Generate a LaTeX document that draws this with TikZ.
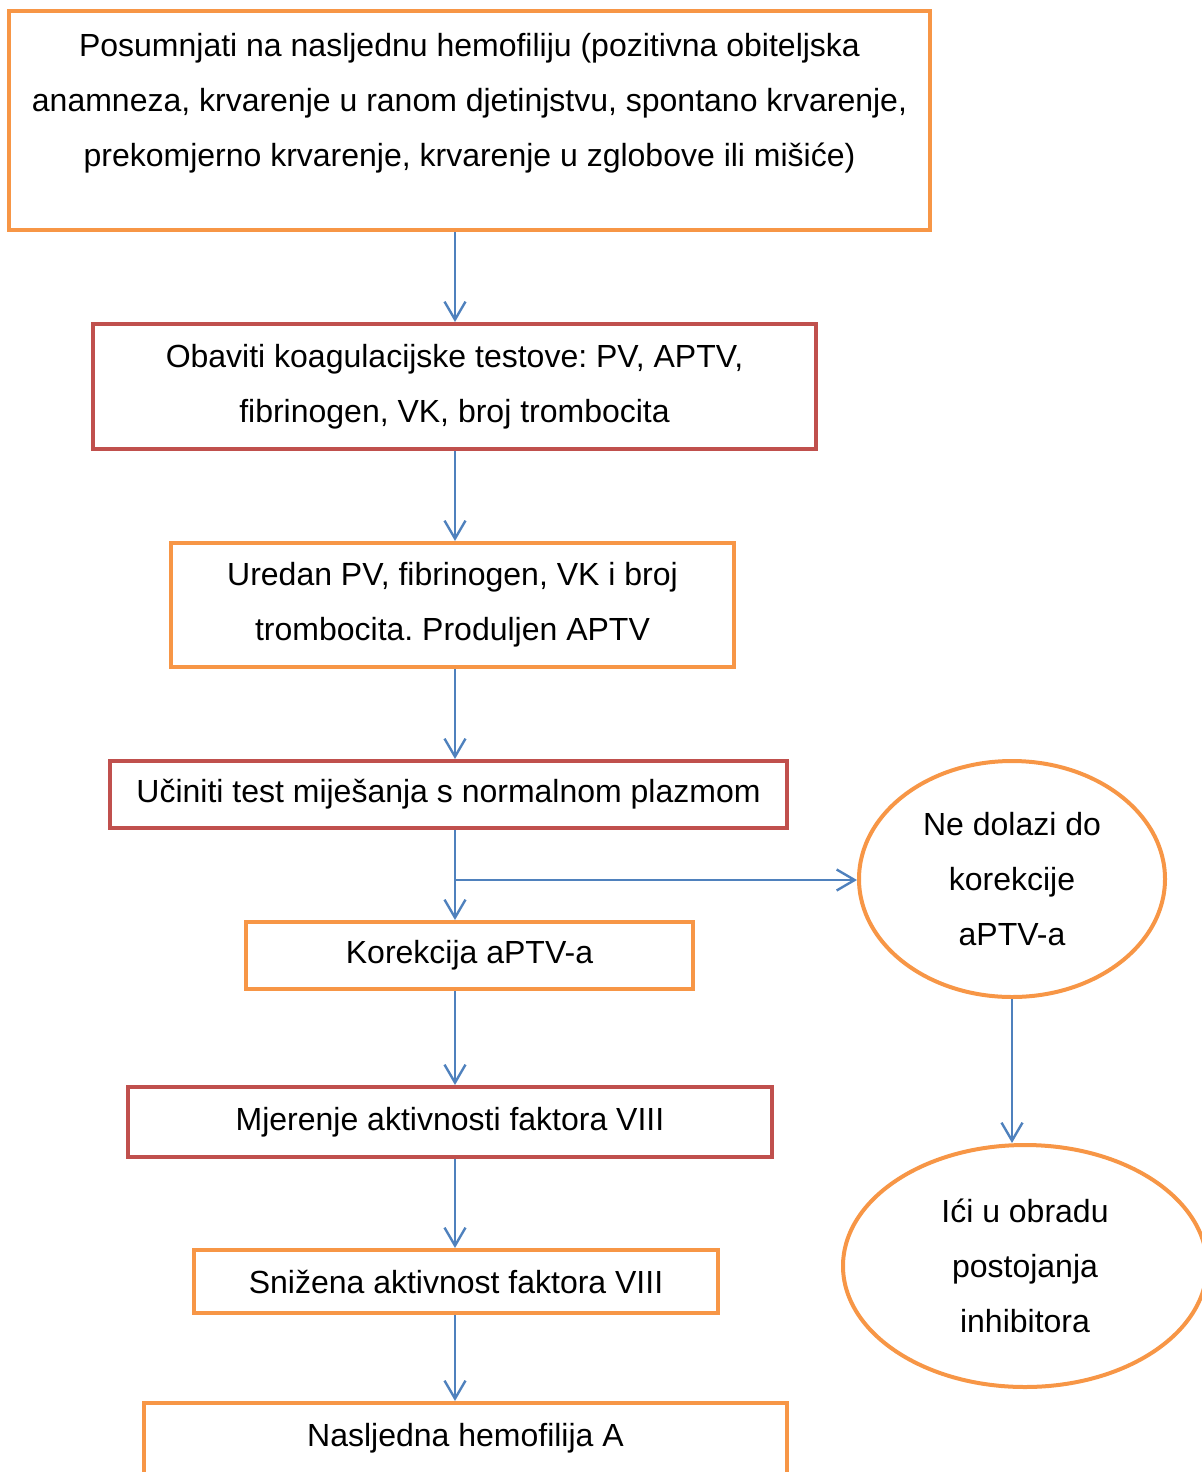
\documentclass[tikz,border=0pt]{standalone}
\usepackage{fontspec}
\setmainfont{Liberation Sans}
\usetikzlibrary{arrows.meta,shapes.geometric}
\definecolor{orng}{HTML}{F79646}
\definecolor{rd}{HTML}{C0504D}
\definecolor{bl}{HTML}{4F81BD}
\frenchspacing
\begin{document}
\begin{tikzpicture}[x=0.5pt,y=-0.5pt,
  txt/.style={font=\fontsize{16}{27.5}\selectfont\frenchspacing, align=center, inner sep=0pt},
  obox/.style={draw=orng, line width=2pt, rectangle, inner sep=0pt, txt},
  rbox/.style={draw=rd, line width=2pt, rectangle, inner sep=0pt, txt},
  oell/.style={draw=orng, line width=2pt, ellipse, inner sep=0pt, txt},
  conn/.style={draw=bl, line width=1.2pt, -{Straight Barb[length=9pt,width=10.5pt,line width=1.2pt]}}
]
\useasboundingbox (0,0) rectangle (1202,1472);
\coordinate (col) at (455,0);
% boxes
\node[obox, minimum width=460.5pt, minimum height=109.5pt] (b1) at (469.5,120.5) {};
\node[txt] (t1) at (469.5,103) {Posumnjati na nasljednu hemofiliju (pozitivna obiteljska\\anamneza, krvarenje u ranom djetinjstvu, spontano krvarenje,\\prekomjerno krvarenje, krvarenje u zglobove ili mišiće)};
\node[rbox, minimum width=361.5pt, minimum height=62.5pt] (b2) at (454.5,386.5) {Obaviti koagulacijske testove: PV, APTV,\\fibrinogen, VK, broj trombocita};
\node[obox, minimum width=281.5pt, minimum height=62pt] (b3) at (452.5,605) {Uredan PV, fibrinogen, VK i broj\\trombocita. Produljen APTV};
\node[rbox, minimum width=338.5pt, minimum height=33.5pt] (b4) at (448.5,794.5) {Učiniti test miješanja s normalnom plazmom};
\node[obox, minimum width=223.5pt, minimum height=33.5pt] (b5) at (469.5,955.5) {Korekcija aPTV-a};
\node[rbox, minimum width=322pt, minimum height=35pt] (b6) at (450,1122) {Mjerenje aktivnosti faktora VIII};
\node[obox, minimum width=262pt, minimum height=31.5pt] (b7) at (456,1281.5) {Snižena aktivnost faktora VIII};
\node[obox, minimum width=321.5pt, minimum height=42pt] (b8) at (465.5,1445) {};
\node[txt] (t8) at (465.5,1438) {Nasljedna hemofilija A};
% ellipses
\node[oell, minimum width=153pt, minimum height=118pt] (e1) at (1012,879) {Ne dolazi do\\korekcije\\aPTV-a};
\node[oell, minimum width=182pt, minimum height=121pt] (e2) at (1025,1266) {Ići u obradu\\postojanja\\inhibitora};
% connectors
\draw[conn] (b1.south -| col) -- (b2.north -| col);
\draw[conn] (b2.south -| col) -- (b3.north -| col);
\draw[conn] (b3.south -| col) -- (b4.north -| col);
\draw[conn] (b4.south -| col) -- (b5.north -| col);
\coordinate (br) at (455,880);
\draw[conn] (br) -- (br -| e1.west);
\draw[conn] (b5.south -| col) -- (b6.north -| col);
\draw[conn] (b6.south -| col) -- (b7.north -| col);
\draw[conn] (b7.south -| col) -- (b8.north -| col);
\draw[conn] (e1.south) -- (e1.south |- e2.north);
\end{tikzpicture}
\end{document}
